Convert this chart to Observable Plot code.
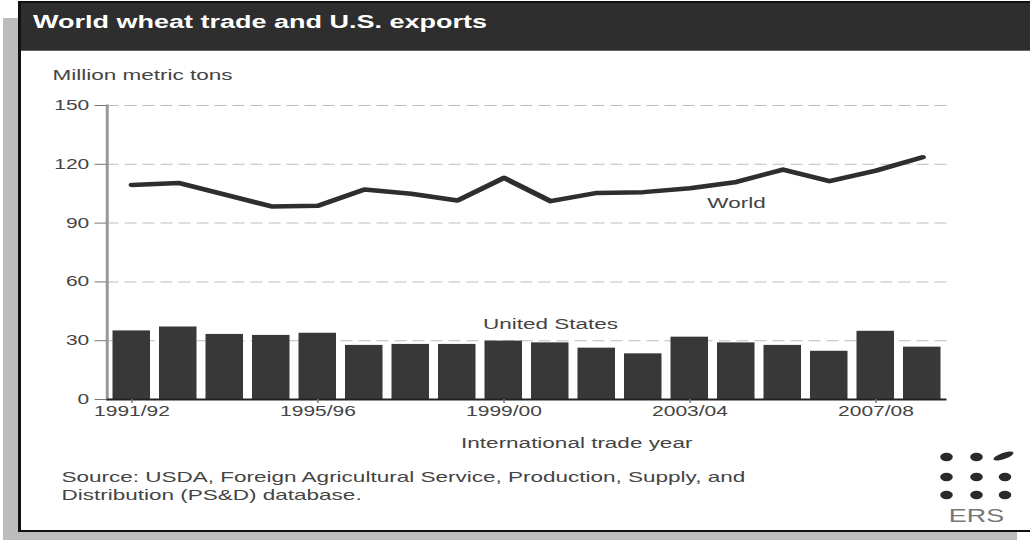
<!DOCTYPE html>
<html><head><meta charset="utf-8">
<script src="https://cdn.jsdelivr.net/npm/d3@7"></script>
<script src="https://cdn.jsdelivr.net/npm/@observablehq/plot@0.6"></script>
<style>
html,body{margin:0;padding:0;background:#fff;overflow:hidden;width:1030px;height:540px;}
#stage{position:absolute;left:0;top:0;width:687px;height:540px;transform:scaleX(1.5);transform-origin:0 0;font-family:"Liberation Sans",Arial,sans-serif;}
#shadow{position:absolute;left:2px;top:18px;width:676px;height:522px;background:#bcbcbc;}
#panel{position:absolute;left:12px;top:1px;width:700px;height:531px;box-sizing:border-box;border:2px solid #111;background:#fff;}
#titlebar{position:absolute;left:0;top:0;right:0;height:47px;background:#2e2e2e;border-bottom:1px solid #666;}
#title{position:absolute;left:8px;top:9px;color:#fff;font-weight:bold;font-size:18px;white-space:nowrap;}
#chart{position:absolute;left:0;top:90px;}
#ylabel{position:absolute;left:35px;top:66px;font-size:15px;color:#444;white-space:nowrap;}
#source{position:absolute;left:41px;top:468px;font-size:15px;line-height:18px;color:#444;white-space:nowrap;}
#logo{position:absolute;left:620px;top:445px;}
</style>
</head>
<body>
<div id="stage">
  <div id="shadow"></div>
  <div id="panel">
    <div id="titlebar"><div id="title">World wheat trade and U.S. exports</div></div>
  </div>
  <div id="ylabel">Million metric tons</div>
  <div id="chart"></div>
  <div id="source">Source: USDA, Foreign Agricultural Service, Production, Supply, and<br>Distribution (PS&amp;D) database.</div>
  <svg id="logo" width="62" height="84" viewBox="0 0 62 84">
    <g fill="#2a2a2a">
      <circle cx="11" cy="12" r="4.2"/><circle cx="31" cy="12" r="4.2"/>
      <ellipse cx="49" cy="11" rx="7.5" ry="3" transform="rotate(-30 49 11)"/>
      <circle cx="11" cy="32" r="4.2"/><circle cx="31" cy="32" r="4.2"/><circle cx="50" cy="32" r="4.2"/>
      <circle cx="11" cy="50" r="4.2"/><circle cx="31" cy="50" r="4.2"/><circle cx="50" cy="50" r="4.2"/>
    </g>
    <text x="31" y="77" text-anchor="middle" font-size="18" fill="#777" font-family="Liberation Sans, Arial, sans-serif">ERS</text>
  </svg>
</div>
<script>
const years = ["1991/92","1992/93","1993/94","1994/95","1995/96","1996/97","1997/98","1998/99","1999/00","2000/01","2001/02","2002/03","2003/04","2004/05","2005/06","2006/07","2007/08","2008/09"];
const usExports = [35.0, 37.0, 33.2, 32.7, 33.8, 27.6, 28.1, 28.1, 29.8, 28.9, 26.2, 23.3, 31.8, 28.9, 27.6, 24.6, 34.8, 26.7];
const worldTrade = [109.5, 110.5, 104.5, 98.5, 98.8, 107.1, 105.0, 101.5, 113.1, 101.2, 105.4, 105.8, 107.8, 111.0, 117.3, 111.4, 116.8, 123.6];
const yTicks = [0, 30, 60, 90, 120, 150];
const xTickLabels = ["1991/92", "1995/96", "1999/00", "2003/04", "2007/08"];

const data = years.map((year, i) => ({year, us: usExports[i], world: worldTrade[i]}));

const chart = Plot.plot({
  width: 660, height: 367,
  marginTop: 15, marginLeft: 71, marginRight: 29, marginBottom: 58,
  style: {fontFamily: "Liberation Sans, Arial, sans-serif", fontSize: "14px", color: "#444", background: "transparent", overflow: "visible"},
  x: {domain: years, paddingInner: 0.2, paddingOuter: 0.1, label: null},
  y: {domain: [0, 150], label: null},
  marks: [
    Plot.ruleY(yTicks.filter(d => d > 0), {stroke: "#bdbdbd", strokeDasharray: "8,4", strokeWidth: 1}),
    Plot.barY(data, {x: "year", y: "us", fill: "#383838"}),
    Plot.line(data, {x: "year", y: "world", stroke: "#2e2e2e", strokeWidth: 4.5, strokeLinejoin: "round", strokeLinecap: "round"}),
    Plot.frame({anchor: "left", stroke: "#999", strokeWidth: 2}),
    Plot.ruleY([0], {stroke: "#222", strokeWidth: 2}),
    Plot.axisY({ticks: yTicks, tickSize: 8, tickPadding: 4, label: null, stroke: "#777", fontSize: 14}),
    Plot.axisX({ticks: xTickLabels, tickSize: 4, tickPadding: 3, label: null, fontSize: 14, stroke: "#777"}),
    Plot.text(["International trade year"], {frameAnchor: "bottom", dx: 33, dy: 48, fontSize: 15, fill: "#444"}),
    Plot.text(["World"], {x: () => "2004/05", y: () => 100, fontSize: 15, fill: "#444"}),
    Plot.text(["United States"], {x: () => "2000/01", y: () => 38.3, fontSize: 15, fill: "#444"})
  ]
});
document.getElementById("chart").appendChild(chart);
</script>
</body></html>
